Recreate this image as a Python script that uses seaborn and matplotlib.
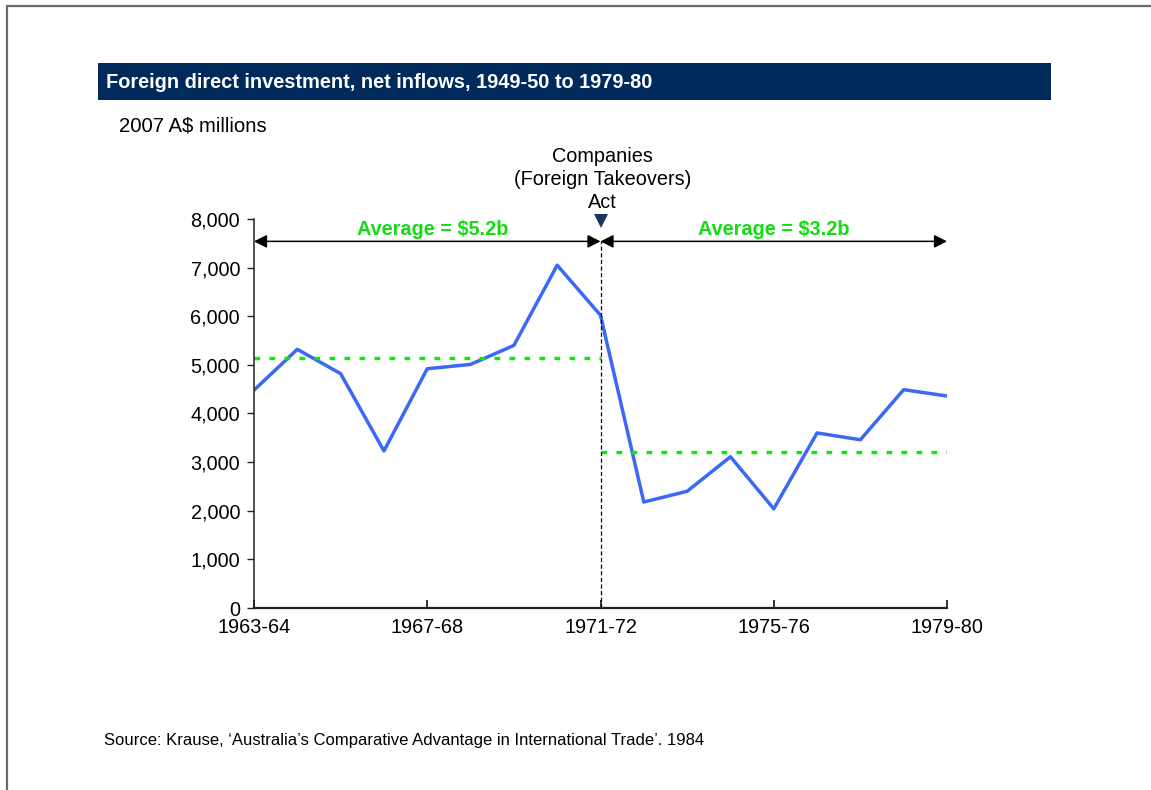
import matplotlib
matplotlib.use("Agg")
import matplotlib.pyplot as plt
from matplotlib.patches import Rectangle
from matplotlib.lines import Line2D
import numpy as np
import pandas as pd
import seaborn as sns

# Financial years and net FDI inflows (2007 A$ millions)
seasons = ["1963-64", "1964-65", "1965-66", "1966-67", "1967-68", "1968-69",
           "1969-70", "1970-71", "1971-72", "1972-73", "1973-74", "1974-75",
           "1975-76", "1976-77", "1977-78", "1978-79", "1979-80"]
inflows = [4480, 5320, 4820, 3230, 4920, 5010, 5400, 7050, 6020,
           2180, 2400, 3110, 2040, 3600, 3460, 4490, 4360]
tick_seasons = ["1963-64", "1967-68", "1971-72", "1975-76", "1979-80"]
y_ticks = [0, 1000, 2000, 3000, 4000, 5000, 6000, 7000, 8000]
act_season = "1971-72"
avg_labels = ["Average = $5.2b", "Average = $3.2b"]

title = "Foreign direct investment, net inflows, 1949-50 to 1979-80"
unit_label = "2007 A$ millions"
act_label = "Companies\n(Foreign Takeovers)\nAct"
source = "Source: Krause, \u2018Australia\u2019s Comparative Advantage in International Trade\u2019. 1984"

sns.set_style("ticks")
plt.rcParams["font.family"] = ["Liberation Sans", "DejaVu Sans"]
plt.rcParams["text.color"] = "black"
plt.rcParams["xtick.color"] = "black"
plt.rcParams["ytick.color"] = "black"

FS = 14.3
W, H = 1151, 790
fig = plt.figure(figsize=(W / 100, H / 100), dpi=100)
fig.patch.set_facecolor("white")

# slide frame
fig.add_artist(Line2D([7 / W, 1], [1 - 6 / H, 1 - 6 / H], color="#6a6a6a", lw=1.6))
fig.add_artist(Line2D([7 / W, 7 / W], [0, 1 - 6 / H], color="#6a6a6a", lw=1.6))

# title bar
fig.add_artist(Rectangle((98 / W, 1 - 100 / H), (1051 - 98) / W, 37 / H,
                         transform=fig.transFigure, facecolor="#002a5c",
                         edgecolor="none"))
fig.text(106 / W, 1 - 82 / H, title, color="white", fontweight="bold",
         fontsize=14.4, va="center", ha="left")
fig.text(119 / W, 1 - 126 / H, unit_label, fontsize=14.6, va="center", ha="left")
fig.text(104 / W, 1 - 741 / H, source, fontsize=12, va="center", ha="left")

ax = fig.add_axes([254 / W, 1 - 608 / H, (947 - 254) / W, (608 - 219) / H])

df = pd.DataFrame({"pos": np.arange(len(seasons)), "value": inflows,
                   "season": seasons})
sns.lineplot(data=df, x="pos", y="value", ax=ax, color="#3b68f4", lw=2.5)

act_pos = seasons.index(act_season)
n = len(seasons)
avg_before = float(np.mean(inflows[:act_pos + 1]))
avg_after = float(np.mean(inflows[act_pos + 1:]))

green_line = "#00f000"
green_text = "#11dd11"
ax.plot([0, act_pos], [avg_before, avg_before], color=green_line, lw=2.4,
        dashes=(1.7, 2.8), dash_capstyle="butt")
ax.plot([act_pos, n - 1], [avg_after, avg_after], color=green_line, lw=2.4,
        dashes=(1.7, 2.8), dash_capstyle="butt")

arrow_y = 7540
ax.plot([act_pos, act_pos], [0, arrow_y], color="black", lw=0.9,
        dashes=(3.3, 2.0), clip_on=False)
arrow_kw = dict(arrowstyle="<|-|>,head_length=0.55,head_width=0.28",
                color="black", lw=1.1, mutation_scale=14,
                shrinkA=0, shrinkB=0)
ax.annotate("", xy=(0, arrow_y), xytext=(act_pos, arrow_y),
            arrowprops=arrow_kw, annotation_clip=False)
ax.annotate("", xy=(act_pos, arrow_y), xytext=(n - 1, arrow_y),
            arrowprops=arrow_kw, annotation_clip=False)

ax.text(4.13, 7790, avg_labels[0], ha="center", va="center", color=green_text,
        fontweight="bold", fontsize=FS, clip_on=False)
ax.text(12.0, 7790, avg_labels[1], ha="center", va="center", color=green_text,
        fontweight="bold", fontsize=FS, clip_on=False)

ax.plot([act_pos], [7960], marker="v", ms=10, color="#17375e", clip_on=False,
        markeredgewidth=0)
ax.text(act_pos + 0.04, 8150, act_label, ha="center", va="bottom",
        fontsize=FS, linespacing=1.27, clip_on=False)

ax.set_xlim(0, n - 1)
ax.set_ylim(0, 8000)
ax.set_xticks([seasons.index(s) for s in tick_seasons])
ax.set_xticklabels(tick_seasons)
ax.set_yticks(y_ticks)
ax.set_yticklabels([f"{v:,}" for v in y_ticks])
ax.set_xlabel("")
ax.set_ylabel("")

for side in ("top", "right"):
    ax.spines[side].set_visible(False)
ax.spines["left"].set_color("#222222")
ax.spines["left"].set_linewidth(1.1)
ax.spines["bottom"].set_color("#222222")
ax.spines["bottom"].set_linewidth(1.6)
ax.tick_params(axis="y", direction="out", length=5, width=1.0,
               labelsize=FS, pad=5, color="#222222", labelcolor="black")
ax.tick_params(axis="x", direction="in", length=6, width=1.3,
               labelsize=FS, pad=7, color="#222222", labelcolor="black")
ax.set_facecolor("white")

fig.savefig("out.png", dpi=100)
